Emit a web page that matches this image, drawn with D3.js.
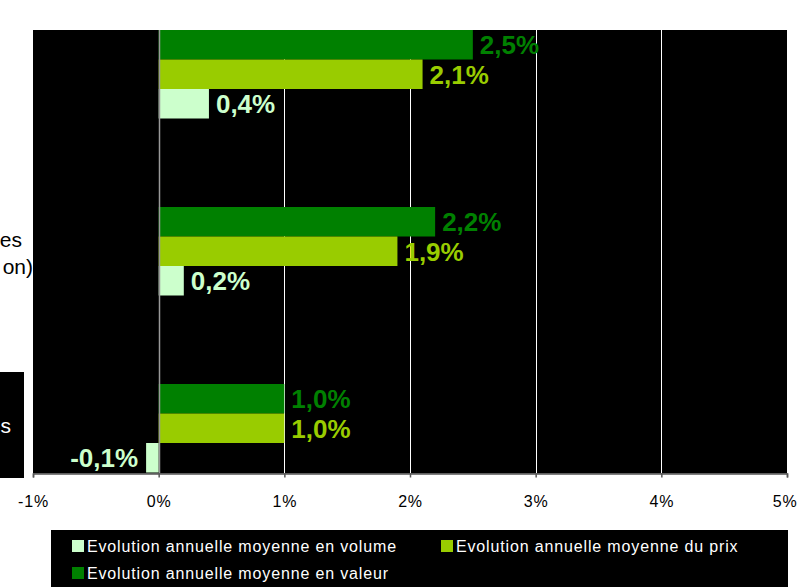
<!DOCTYPE html>
<html><head><meta charset="utf-8">
<script src="https://cdn.jsdelivr.net/npm/d3@7"></script>
<style>
html,body{margin:0;padding:0;background:#fff;overflow:hidden}
text{font-family:"Liberation Sans",Arial,sans-serif}
</style></head>
<body><svg id="c" width="798" height="587"></svg>
<script>
const categories = ["cat1", "cat2", "cat3"];
const catLabels = [[], ["es", "on)"], ["s"]];
const seriesNames = ["Evolution annuelle moyenne en valeur", "Evolution annuelle moyenne du prix", "Evolution annuelle moyenne en volume"];
const valeur = [2.5, 2.2, 1.0];
const prix = [2.1, 1.9, 1.0];
const volume = [0.4, 0.2, -0.1];
const xTicks = [-1, 0, 1, 2, 3, 4, 5];
const colors = ["#008000", "#99CC00", "#CCFFCC"];

(function () {
const svg = d3.select("#c");
const pL = 33, pR = 787, pT = 30, pB = 472.5;
const x = d3.scaleLinear().domain([-1, 5]).range([pL, pR]);
const y = d3.scaleBand().domain(categories).range([pT, pB]).paddingInner(0.5).paddingOuter(0);
const sKeys = [0, 1, 2];
const ySub = d3.scaleBand().domain(sKeys).range([0, y.bandwidth()]);
const seriesVals = [valeur, prix, volume];

// plot background
svg.append("rect").attr("x", pL).attr("y", pT).attr("width", pR - pL).attr("height", pB - pT + 1).attr("fill", "#000");

// gridlines
svg.append("g").selectAll("line").data(xTicks.filter(d => d > 0 && d < 5)).join("line")
  .attr("x1", d => Math.round(x(d)) + 0.5).attr("x2", d => Math.round(x(d)) + 0.5)
  .attr("y1", pT).attr("y2", pB + 1).attr("stroke", "#fff").attr("stroke-width", 1);

// bars
const fmt = v => (v < 0 ? "-" : "") + d3.format(".1f")(Math.abs(v)).replace(".", ",") + "%";
categories.forEach((c, i) => {
  const g = svg.append("g").attr("transform", `translate(0,${y(c)})`);
  sKeys.forEach(k => {
    const v = seriesVals[k][i];
    g.append("rect").attr("x", x(Math.min(0, v))).attr("y", ySub(k))
      .attr("width", Math.abs(x(v) - x(0))).attr("height", ySub.bandwidth())
      .attr("fill", colors[k]);
    g.append("text").attr("x", v >= 0 ? x(v) + 7 : x(v) - 8)
      .attr("y", ySub(k) + ySub.bandwidth() / 2).attr("dy", "0.36em")
      .attr("text-anchor", v >= 0 ? "start" : "end")
      .attr("font-size", 26).attr("font-weight", "bold").attr("fill", colors[k])
      .text(fmt(v));
  });
});

// zero line
svg.append("line").attr("x1", Math.round(x(0)) + 0.5).attr("x2", Math.round(x(0)) + 0.5)
  .attr("y1", pT).attr("y2", pB + 1).attr("stroke", "#999").attr("stroke-width", 1.5);

// x axis
const ax = svg.append("g").attr("transform", `translate(0,${pB + 1})`)
  .call(d3.axisBottom(x).tickValues(xTicks).tickSize(4).tickPadding(18).tickFormat(d => d + "%"));
ax.select(".domain").attr("stroke", "#555").attr("stroke-width", 1.5);
ax.selectAll(".tick line").attr("stroke", "#555").attr("stroke-width", 1.5);
ax.selectAll(".tick text").attr("font-size", 16).attr("fill", "#000").attr("letter-spacing", "0.8px")
  .attr("font-family", "'Liberation Sans',Arial,sans-serif");
ax.selectAll(".tick text").filter(d => d === 5).attr("text-anchor", "end").attr("x", 10);

// category labels (cropped on the left)
svg.append("rect").attr("x", 0).attr("y", 372).attr("width", 24).attr("height", 106).attr("fill", "#000");
categories.forEach((c, i) => {
  const lines = catLabels[i];
  const cy = y(c) + y.bandwidth() / 2;
  const ends = i === 1 ? [22, 33] : [11];
  const col = i === 2 ? "#fff" : "#000";
  const off = lines.length > 1 ? 1.75 : -2.75;
  lines.forEach((t, j) => {
    svg.append("text").attr("x", ends[j])
      .attr("y", cy + off + (j - (lines.length - 1) / 2) * 27).attr("dy", "0.36em")
      .attr("text-anchor", "end").attr("font-size", 21).attr("fill", col).text(t);
  });
});

// legend
svg.append("rect").attr("x", 51).attr("y", 530).attr("width", 737).attr("height", 57).attr("fill", "#000");
const legendItems = [
  {name: seriesNames[2], color: colors[2], x: 72, y: 546},
  {name: seriesNames[1], color: colors[1], x: 441, y: 546},
  {name: seriesNames[0], color: colors[0], x: 72, y: 573}
];
const lg = svg.append("g").selectAll("g").data(legendItems).join("g")
  .attr("transform", d => `translate(${d.x},${d.y})`);
lg.append("rect").attr("x", 0).attr("y", -6).attr("width", 12).attr("height", 12).attr("fill", d => d.color);
lg.append("text").attr("x", 15).attr("y", 0).attr("dy", "0.36em").attr("font-size", 16)
  .attr("letter-spacing", "0.85px").attr("fill", "#fff").text(d => d.name);
})();
</script></body></html>
